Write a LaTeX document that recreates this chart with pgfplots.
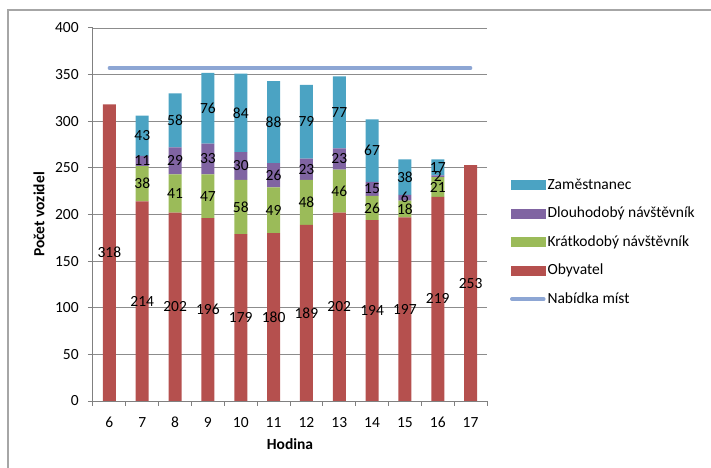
\documentclass[border=0pt]{standalone}
\usepackage{pgfplots}
\pgfplotsset{compat=1.18}
\usepackage{fontspec}
\setmainfont{Carlito}
\definecolor{zam}{HTML}{4BA3C3}
\definecolor{dlo}{HTML}{8064A2}
\definecolor{kra}{HTML}{9BBB59}
\definecolor{oby}{HTML}{B5504E}
\definecolor{nab}{HTML}{8DA6D4}
\begin{document}
\fontsize{15.5bp}{18bp}\selectfont
\begin{tikzpicture}
\useasboundingbox (-93bp,-67bp) rectangle (618bp,401bp);
\draw[line width=1.2bp, color=black!35] (-85bp,-90bp) rectangle (640bp,391bp);
\begin{axis}[
  at={(0,0)}, anchor=south west,
  scale only axis, width=394bp, height=373bp,
  ybar stacked, bar width=13bp,
  xmin=5.5, xmax=17.5, ymin=0, ymax=400,
  xtick={6,...,17},
  minor xtick={5.5,6.5,...,17.5},
  ytick={0,50,...,400},
  ymajorgrids, major grid style={color=black!45, line width=0.8bp},
  axis x line*=bottom, axis y line*=left,
  axis line style={color=black!50, line width=1bp, -},
  tick align=outside,
  major x tick style={draw=none},
  minor x tick style={color=black!50, line width=1bp},
  y tick style={color=black!50, line width=1bp},
  major tick length=5bp, minor tick length=5bp,
  /pgf/number format/assume math mode=true,
  ticklabel style={font=\fontsize{15.5bp}{18bp}\selectfont},
  xticklabel style={yshift=-6bp},
  yticklabel style={xshift=-4bp},
  xlabel={\textbf{Hodina}},
  ylabel={\textbf{Počet vozidel}},
  label style={font=\fontsize{15.5bp}{18bp}\selectfont},
]
\addplot[fill=oby, draw=none] coordinates {(6,318) (7,214) (8,202) (9,196) (10,179) (11,180) (12,189) (13,202) (14,194) (15,197) (16,219) (17,253)};
\addplot[fill=kra, draw=none] coordinates {(6,0) (7,38) (8,41) (9,47) (10,58) (11,49) (12,48) (13,46) (14,26) (15,18) (16,21) (17,0)};
\addplot[fill=dlo, draw=none] coordinates {(6,0) (7,11) (8,29) (9,33) (10,30) (11,26) (12,23) (13,23) (14,15) (15,6) (16,2) (17,0)};
\addplot[fill=zam, draw=none] coordinates {(6,0) (7,43) (8,58) (9,76) (10,84) (11,88) (12,79) (13,77) (14,67) (15,38) (16,17) (17,0)};
\end{axis}
\begin{axis}[
  at={(0,0)}, anchor=south west,
  scale only axis, width=394bp, height=373bp,
  xmin=5.5, xmax=17.5, ymin=0, ymax=400,
  hide axis, clip=false,
  legend style={at={(1.058,0.426)}, anchor=west, draw=none, fill=none,
    inner sep=0pt, row sep=11.5bp, cells={anchor=west},
    font=\fontsize{15.5bp}{18bp}\selectfont},
  legend cell align=left,
]
\addplot[color=nab, line width=3.5bp, line cap=round, forget plot] coordinates {(6,357) (17,357)};
\addplot[draw=none, mark=none, forget plot, nodes near coords, nodes near coords align={center},
  point meta=explicit symbolic,
  every node near coord/.append style={font=\fontsize{15.5bp}{18bp}\selectfont, text=black, inner sep=0pt}]
  coordinates {
  (6,159) [318]
  (7,107) [214] (7,233) [38] (7,257.5) [11] (7,284.5) [43]
  (8,101) [202] (8,222.5) [41] (8,257.5) [29] (8,301) [58]
  (9,98) [196] (9,219.5) [47] (9,259.5) [33] (9,314) [76]
  (10,89.5) [179] (10,208) [58] (10,252) [30] (10,309) [84]
  (11,90) [180] (11,204.5) [49] (11,242) [26] (11,299) [88]
  (12,94.5) [189] (12,213) [48] (12,248.5) [23] (12,299.5) [79]
  (13,101) [202] (13,225) [46] (13,259.5) [23] (13,309.5) [77]
  (14,97) [194] (14,207) [26] (14,227.5) [15] (14,268.5) [67]
  (15,98.5) [197] (15,206) [18] (15,218) [6] (15,240) [38]
  (16,109.5) [219] (16,229.5) [21] (16,241) [2] (16,250.5) [17]
  (17,126.5) [253]
  };
\addlegendimage{legend image code/.code={\fill[zam] (0bp,-4.5bp) rectangle (34bp,4.5bp);}}
\addlegendentry{Zaměstnanec}
\addlegendimage{legend image code/.code={\fill[dlo] (0bp,-4.5bp) rectangle (34bp,4.5bp);}}
\addlegendentry{Dlouhodobý návštěvník}
\addlegendimage{legend image code/.code={\fill[kra] (0bp,-4.5bp) rectangle (34bp,4.5bp);}}
\addlegendentry{Krátkodobý návštěvník}
\addlegendimage{legend image code/.code={\fill[oby] (0bp,-4.5bp) rectangle (34bp,4.5bp);}}
\addlegendentry{Obyvatel}
\addlegendimage{legend image code/.code={\draw[nab, line width=3.5bp, line cap=round] (1bp,0bp) -- (33bp,0bp);}}
\addlegendentry{Nabídka míst}
\end{axis}
\end{tikzpicture}
\end{document}
